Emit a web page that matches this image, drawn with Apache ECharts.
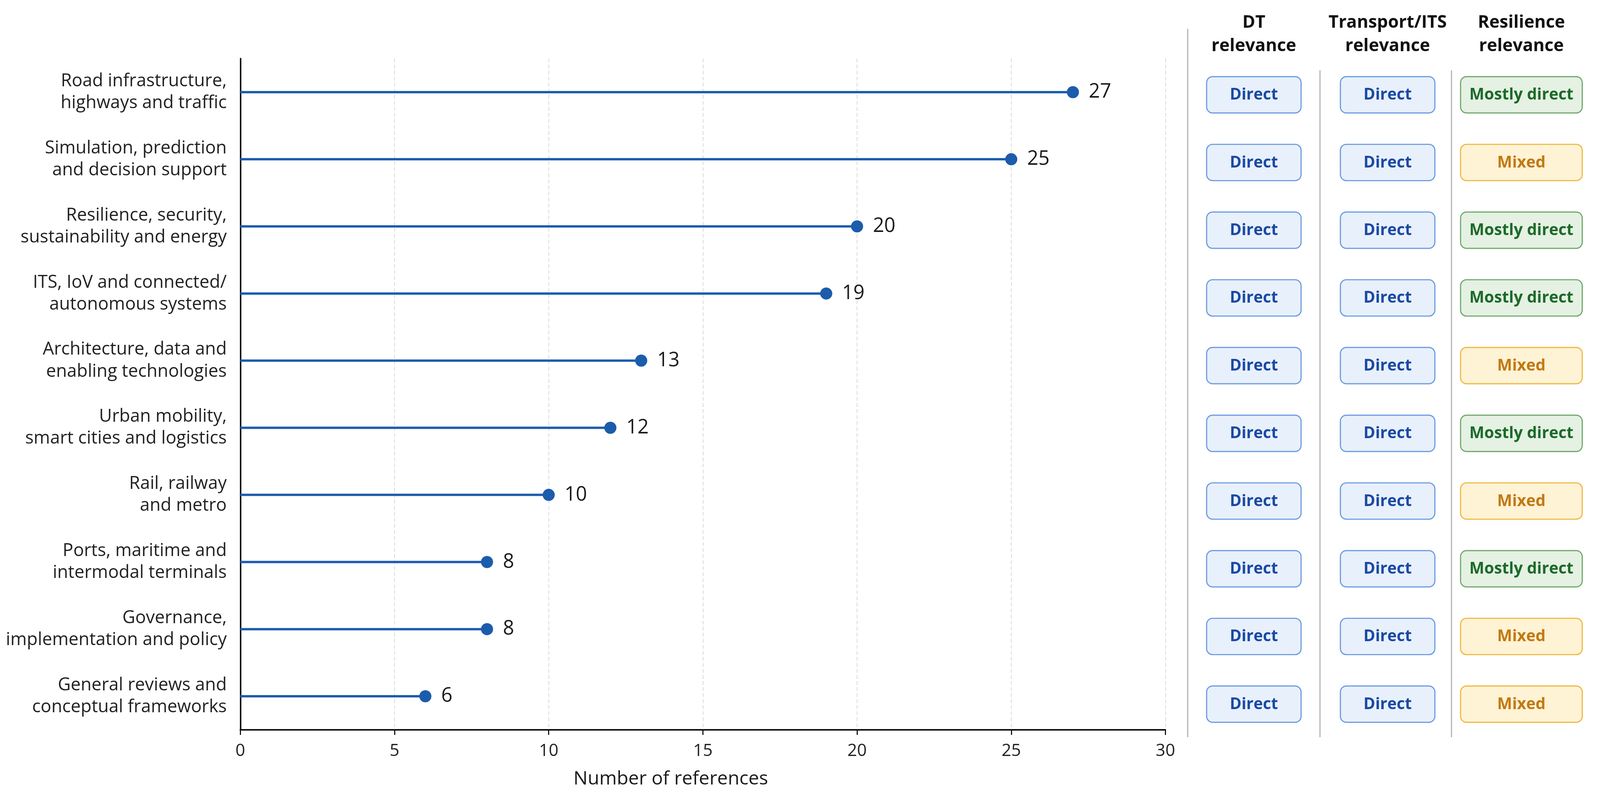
<!DOCTYPE html>
<html>
<head>
<meta charset="utf-8">
<script src="https://cdn.jsdelivr.net/npm/echarts@6/dist/echarts.min.js"></script>
<style>
  html, body { margin: 0; padding: 0; background: #fff; overflow: hidden; }
  #chart { width: 100vw; height: 100vh; }
</style>
</head>
<body>
<div id="chart"></div>
<script>
// categories, top to bottom
var categories = [
    'Road infrastructure,\nhighways and traffic',
    'Simulation, prediction\nand decision support',
    'Resilience, security,\nsustainability and energy',
    'ITS, IoV and connected/\nautonomous systems',
    'Architecture, data and\nenabling technologies',
    'Urban mobility,\nsmart cities and logistics',
    'Rail, railway\nand metro',
    'Ports, maritime and\nintermodal terminals',
    'Governance,\nimplementation and policy',
    'General reviews and\nconceptual frameworks'
];
var references = [27, 25, 20, 19, 13, 12, 10, 8, 8, 6];

var xTicks = [0, 5, 10, 15, 20, 25, 30];

var columnHeaders = ['DT\nrelevance', 'Transport/ITS\nrelevance', 'Resilience\nrelevance'];
var dtRelevance = ['Direct', 'Direct', 'Direct', 'Direct', 'Direct', 'Direct', 'Direct', 'Direct', 'Direct', 'Direct'];
var transportRelevance = ['Direct', 'Direct', 'Direct', 'Direct', 'Direct', 'Direct', 'Direct', 'Direct', 'Direct', 'Direct'];
var resilienceRelevance = ['Mostly direct', 'Mixed', 'Mostly direct', 'Mostly direct', 'Mixed',
    'Mostly direct', 'Mixed', 'Mostly direct', 'Mixed', 'Mixed'];

var badgeStyle = {
    'Direct': {fill: '#e8f0fc', stroke: '#6b9be0', text: '#1a4aa3', width: 250},
    'Mostly direct': {fill: '#e5f1e3', stroke: '#6fa86b', text: '#1c6a2a', width: 322},
    'Mixed': {fill: '#fff3d5', stroke: '#efb740', text: '#c27912', width: 322}
};

var badgeData = [];
[dtRelevance, transportRelevance, resilienceRelevance].forEach(function (col, c) {
    col.forEach(function (v, r) {
        badgeData.push([c, r, v]);
    });
});

var font = '"Open Sans", "Noto Sans", sans-serif';
var blue = '#1c5cad';

var myChart = echarts.init(document.getElementById('chart'));

// layout was measured on a 4234 x 2041 canvas, scale it to the real one
var W = myChart.getWidth(), H = myChart.getHeight();
var sx = W / 4234, sy = H / 2041, s = Math.min(sx, sy);
function X(v) { return v * sx; }
function Y(v) { return v * sy; }
function F(v) { return v * s; }

myChart.setOption({
    backgroundColor: '#ffffff',
    textStyle: {fontFamily: font},
    grid: [
        {left: X(636), right: X(4234 - 3084), top: Y(150), bottom: Y(2041 - 1869)},
        {left: X(3141), right: X(31), top: Y(156), bottom: Y(2041 - 1890)}
    ],
    xAxis: [{
        gridIndex: 0,
        type: 'value',
        min: xTicks[0],
        max: xTicks[xTicks.length - 1],
        interval: 5,
        name: 'Number of references',
        nameLocation: 'middle',
        nameGap: Y(102),
        nameTextStyle: {fontSize: F(50), color: '#1a1a1a', padding: [0, X(170), 0, 0]},
        axisLine: {show: true, lineStyle: {color: '#111', width: F(4)}},
        axisTick: {show: true, length: Y(13), lineStyle: {color: '#111', width: F(3)}},
        axisLabel: {fontSize: F(45), color: '#222', margin: Y(33)},
        splitLine: {show: true, lineStyle: {color: '#d9d9d9', width: F(2), type: [F(10), F(6)]}}
    }, {
        gridIndex: 1,
        type: 'category',
        position: 'top',
        data: columnHeaders,
        axisLine: {show: false},
        axisTick: {show: false},
        axisLabel: {
            interval: 0, fontSize: F(46), fontWeight: 'bold', color: '#111',
            lineHeight: F(62), margin: Y(8)
        },
        splitLine: {show: false}
    }],
    yAxis: [{
        gridIndex: 0,
        type: 'category',
        inverse: true,
        data: categories,
        axisLine: {show: true, lineStyle: {color: '#111', width: F(4)}},
        axisTick: {show: false},
        axisLabel: {interval: 0, fontSize: F(47), color: '#222', lineHeight: F(58), margin: X(36)}
    }, {
        gridIndex: 1,
        type: 'category',
        inverse: true,
        data: categories,
        show: false
    }],
    graphic: [
        {type: 'line', shape: {x1: X(3143), y1: Y(74), x2: X(3143), y2: Y(1888)}, style: {stroke: '#b3b3b3', lineWidth: F(3)}},
        {type: 'line', shape: {x1: X(3493), y1: Y(180), x2: X(3493), y2: Y(1888)}, style: {stroke: '#b3b3b3', lineWidth: F(3)}},
        {type: 'line', shape: {x1: X(3841), y1: Y(180), x2: X(3841), y2: Y(1888)}, style: {stroke: '#b3b3b3', lineWidth: F(3)}}
    ],
    series: [{
        name: 'stick',
        type: 'bar',
        xAxisIndex: 0,
        yAxisIndex: 0,
        barWidth: Y(6),
        itemStyle: {color: blue},
        data: references,
        z: 2
    }, {
        name: 'references',
        type: 'scatter',
        xAxisIndex: 0,
        yAxisIndex: 0,
        symbol: 'circle',
        symbolSize: F(32),
        itemStyle: {color: blue, opacity: 1},
        label: {
            show: true,
            position: 'right',
            distance: X(26),
            fontSize: F(52),
            color: '#1a1a1a'
        },
        data: references,
        z: 3
    }, {
        name: 'relevance',
        type: 'custom',
        xAxisIndex: 1,
        yAxisIndex: 1,
        data: badgeData,
        renderItem: function (params, api) {
            var pt = api.coord([api.value(0), api.value(1)]);
            var label = badgeData[params.dataIndex][2];
            var st = badgeStyle[label];
            var w = X(st.width), h = Y(93);
            return {
                type: 'group',
                children: [{
                    type: 'rect',
                    shape: {x: pt[0] - w / 2, y: pt[1] - h / 2, width: w, height: h, r: F(16)},
                    style: {fill: st.fill, stroke: st.stroke, lineWidth: F(3)}
                }, {
                    type: 'text',
                    style: {
                        x: pt[0], y: pt[1] + F(1),
                        text: label,
                        fill: st.text,
                        font: 'bold ' + F(42) + 'px ' + font,
                        align: 'center',
                        verticalAlign: 'middle'
                    }
                }]
            };
        }
    }]
});
</script>
</body>
</html>
